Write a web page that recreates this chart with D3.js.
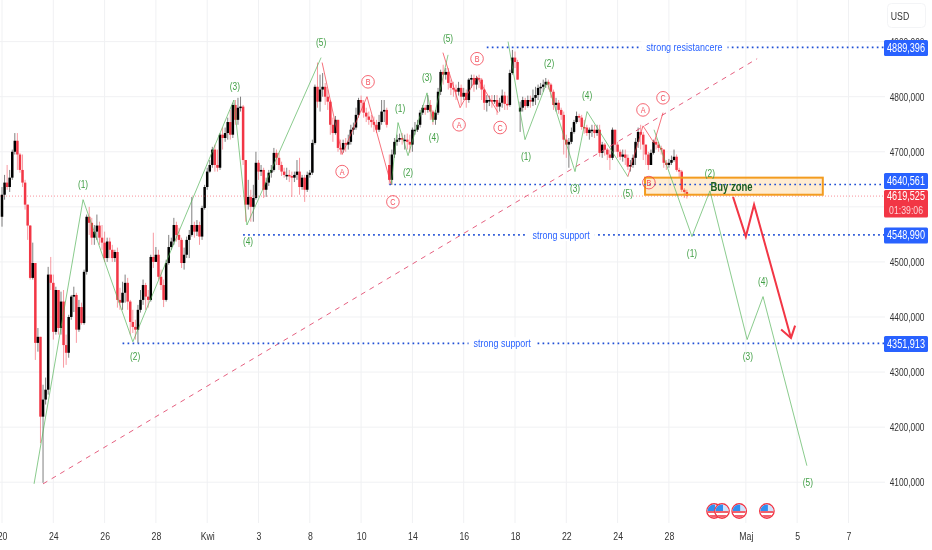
<!DOCTYPE html>
<html><head><meta charset="utf-8">
<style>
html,body{margin:0;padding:0;background:#fff;overflow:hidden}
svg{display:block;filter:blur(.35px)}
text{font-family:"Liberation Sans",Arial,sans-serif}
.cond{transform-box:fill-box;transform-origin:center;transform:scaleX(.76)}
</style>
<script src="https://cdnjs.cloudflare.com/ajax/libs/d3/7.8.5/d3.min.js"></script>
</head><body><svg id="c" width="932" height="550"></svg>
<script>
// ---- candle data (price values)
const firstOpen = 4582;
const gapOpens = {151:4676, 202:4773};
const closes = [
4622,4644,4636,4653,4700,4720,4695,4667,4644,4604,
4566,4471,4498,4353,4364,4219,4250,4268,4477,4462,
4373,4449,4380,4428,4349,4335,4400,4437,4440,4377,
4418,4389,4482,4582,4571,4544,4555,4566,4544,4535,
4507,4537,4522,4507,4518,4431,4426,4444,4462,4428,
4391,4382,4377,4413,4431,4458,4437,4431,4509,4500,
4513,4473,4458,4431,4498,4527,4537,4567,4549,4540,
4498,4513,4540,4549,4567,4555,4567,4546,4598,4636,
4664,4676,4704,4676,4671,4731,4725,4734,4754,4731,
4785,4758,4780,4782,4685,4604,4618,4600,4616,4680,
4664,4667,4631,4644,4662,4667,4698,4689,4676,4664,
4658,4658,4656,4653,4658,4664,4636,4653,4631,4658,
4662,4716,4818,4791,4813,4818,4800,4791,4749,4734,
4758,4707,4704,4716,4713,4718,4740,4744,4767,4794,
4789,4771,4764,4758,4754,4749,4740,4754,4773,4776,
4749,4649,4695,4718,4722,4725,4722,4722,4718,4713,
4740,4740,4749,4771,4780,4776,4785,4773,4758,4771,
4809,4845,4840,4845,4825,4816,4813,4809,4816,4800,
4807,4794,4831,4834,4822,4834,4831,4813,4789,4794,
4794,4791,4794,4782,4789,4802,4787,4785,4843,4871,
4863,4831,4780,4794,4783,4794,4791,4798,4803,4816,
4818,4822,4827,4822,4809,4785,4789,4776,4767,4722,
4713,4718,4736,4754,4765,4762,4745,4744,4734,4740,
4740,4734,4740,4698,4713,4704,4695,4689,4740,4713,
4700,4691,4695,4689,4673,4676,4689,4718,4736,4731,
4713,4695,4676,4698,4718,4713,4707,4704,4680,4676,
4680,4685,4691,4667,4664,4631,4627,4620];
const highs = [
4636,4658,4676,4667,4704,4734,4734,4698,4695,4649,
4604,4567,4535,4498,4380,4364,4277,4290,4491,4509,
4477,4455,4440,4446,4449,4368,4404,4440,4455,4444,
4431,4426,4486,4586,4600,4580,4567,4586,4573,4567,
4555,4544,4544,4531,4522,4526,4453,4464,4477,4471,
4431,4413,4395,4422,4449,4468,4462,4449,4513,4553,
4527,4522,4486,4468,4504,4549,4544,4580,4573,4562,
4544,4526,4546,4558,4618,4573,4576,4573,4602,4640,
4671,4685,4709,4713,4704,4734,4744,4744,4762,4776,
4789,4794,4798,4800,4785,4685,4649,4631,4640,4700,
4685,4676,4671,4653,4667,4676,4707,4704,4698,4682,
4671,4671,4667,4664,4664,4685,4689,4658,4658,4664,
4667,4722,4822,4862,4840,4843,4825,4813,4794,4762,
4765,4758,4722,4722,4725,4731,4749,4753,4780,4798,
4802,4794,4780,4773,4767,4764,4758,4767,4794,4794,
4780,4695,4704,4725,4731,4733,4734,4731,4733,4731,
4744,4754,4758,4776,4785,4785,4803,4794,4776,4776,
4816,4849,4858,4852,4852,4831,4827,4822,4827,4822,
4816,4813,4834,4840,4840,4838,4840,4834,4822,4803,
4802,4803,4803,4803,4798,4813,4809,4802,4849,4885,
4882,4867,4791,4800,4798,4802,4802,4813,4818,4822,
4825,4831,4834,4831,4825,4813,4798,4794,4780,4773,
4731,4725,4744,4758,4773,4769,4767,4758,4749,4744,
4749,4749,4749,4749,4718,4716,4707,4704,4744,4740,
4718,4704,4704,4704,4695,4685,4695,4725,4744,4749,
4736,4713,4700,4704,4722,4725,4718,4711,4704,4685,
4687,4693,4704,4695,4671,4667,4634,4631];
const lows = [
4564,4613,4631,4627,4649,4695,4667,4662,4636,4595,
4540,4468,4468,4322,4337,4171,4099,4241,4259,4449,
4359,4368,4368,4368,4308,4313,4326,4395,4409,4353,
4373,4386,4386,4477,4549,4531,4531,4540,4531,4522,
4500,4500,4507,4500,4500,4417,4413,4413,4426,4413,
4368,4371,4359,4353,4408,4422,4413,4417,4428,4489,
4500,4468,4449,4418,4428,4495,4522,4531,4537,4527,
4489,4486,4507,4507,4546,4544,4547,4531,4540,4595,
4631,4662,4671,4664,4664,4667,4704,4718,4722,4722,
4725,4749,4749,4773,4676,4573,4595,4573,4573,4613,
4649,4656,4616,4618,4638,4653,4664,4676,4667,4656,
4653,4649,4645,4618,4645,4649,4622,4631,4609,4627,
4653,4658,4713,4780,4773,4800,4785,4776,4731,4718,
4731,4700,4695,4698,4700,4704,4713,4731,4740,4762,
4773,4762,4754,4749,4744,4736,4734,4736,4749,4754,
4744,4640,4640,4689,4711,4718,4713,4704,4704,4698,
4700,4731,4736,4744,4767,4767,4771,4758,4749,4749,
4767,4803,4822,4831,4813,4803,4800,4794,4802,4785,
4794,4780,4789,4816,4809,4813,4816,4794,4776,4773,
4783,4780,4787,4767,4773,4780,4776,4776,4782,4840,
4852,4831,4736,4773,4776,4780,4780,4783,4785,4794,
4803,4809,4816,4813,4798,4776,4773,4769,4758,4695,
4689,4671,4714,4733,4751,4754,4740,4733,4729,4722,
4727,4725,4729,4691,4689,4693,4685,4667,4685,4700,
4689,4685,4682,4676,4667,4664,4671,4676,4707,4704,
4685,4676,4667,4676,4695,4704,4700,4695,4671,4667,
4671,4676,4682,4664,4653,4627,4616,4615];

// ---- axes
const gridPrices = [4100,4200,4300,4400,4500,4600,4700,4800,4900];
const priceTicks = [4100,4200,4300,4400,4500,4700,4800,4900]; // 4600 sits behind the red price tag
const timeTickBars = [0,20,40,60,80,100,120,140,160,180,200,220,240,260,290,310,330];
const timeTickLabels = ["20","24","26","28","Kwi","3","8","10","14","16","18","22","24","28","Maj","5","7"];
const currency = "USD";

// ---- levels and their price tags
const levelValues = [4889.396,4640.561,4548.990,4351.913];
const levelStartBars = [189,151,94,47];
const levelTexts = ["strong resistancere","","strong support","strong support"];
const levelTextBars = [266,0,218,195];
const levelTags = ["4889,396","4640,561","4548,990","4351,913"];
const lastPrice = 4619.525;
const lastPriceTag = "4619,525";
const countdown = "01:39:06";

// ---- annotation drawings as [bar, price]
const trendLine = [[16,4097],[294.4,4869]];
const greenWaves = [
 [[12.5,4097],[31.6,4613],[51,4355],[90.4,4794],[95.5,4567],[124.4,4871]],
 [[151.7,4640],[154.4,4753],[158.3,4693],[165.7,4807],[168,4754],[173.9,4876]],
 [[197.3,4900],[203.9,4722],[212.5,4827],[223.4,4664],[228.1,4773],[244,4655]],
 [[254.2,4740],[269,4546],[276,4629],[290.5,4359],[296.7,4437],[313.8,4130]]
];
const redWaves = [
 [[124.8,4862],[132.6,4695],[142.3,4800],[151.7,4640]],
 [[171.9,4880],[178.6,4780],[185.2,4836],[193.4,4771]],
 [[244,4655],[249.9,4747],[254.2,4716],[257.7,4771]]
];
const greenLabels = [
 [31.6,4640,"(1)"],[51.9,4329,"(2)"],[90.8,4818,"(3)"],[95.9,4537,"(4)"],[124.4,4898,"(5)"],
 [155.2,4778,"(1)"],[158.3,4662,"(2)"],[165.7,4834,"(3)"],[168.4,4725,"(4)"],[173.9,4905,"(5)"],
 [204.3,4691,"(1)"],[213.3,4860,"(2)"],[223.4,4633,"(3)"],[228.1,4802,"(4)"],[244,4624,"(5)"],
 [269,4515,"(1)"],[276,4660,"(2)"],[290.8,4329,"(3)"],[296.7,4464,"(4)"],[314.2,4099,"(5)"]
];
const redLabels = [
 [132.6,4664,"A"],[142.7,4827,"B"],[152.4,4609,"C"],
 [178.2,4749,"A"],[185.2,4869,"B"],[194.2,4744,"C"],
 [249.9,4776,"A"],[252.2,4644,"B"],[257.7,4798,"C"]
];
const arrowPath = [[285,4618],[290,4546],[293.2,4604],[307.6,4362]];
const buyZoneBars = [250.7,320];
const buyZonePrices = [4653,4622];
const buyZoneText = "Buy zone";
const eventBars = [277.6,280.7,287.4,298.2];

// ---- scales
const W=932,H=550,plotRight=885,plotBottom=523;
const x=d3.scaleLinear().domain([0,330]).range([2,848.45]);
const y=d3.scaleLinear().domain([4100,4800]).range([482.2,96.7]);
const svg=d3.select("#c");
const line=d3.line().x(d=>x(d[0])).y(d=>y(d[1]));
const BLUE="#2962ff",RED="#f23645",GREEN="#43a047";

// grid
svg.append("g").selectAll("line").data(gridPrices).join("line")
 .attr("x1",0).attr("x2",plotRight).attr("y1",d=>y(d)).attr("y2",d=>y(d)).attr("stroke","#f0f1f3");
svg.append("g").selectAll("line").data(timeTickBars).join("line")
 .attr("x1",d=>x(d)).attr("x2",d=>x(d)).attr("y1",0).attr("y2",plotBottom).attr("stroke","#f0f1f3");

// candles
const bars=d3.range(closes.length).map(i=>({i,c:closes[i],h:highs[i],l:lows[i],
  o: i===0?firstOpen:(gapOpens[i]!==undefined?gapOpens[i]:closes[i-1])}));
const col=d=>d.c>=d.o?"#000":RED;
const cg=svg.append("g");
cg.selectAll("line").data(bars).join("line")
 .attr("x1",d=>x(d.i)).attr("x2",d=>x(d.i)).attr("y1",d=>y(d.h)).attr("y2",d=>y(d.l))
 .attr("stroke",col).attr("stroke-opacity",.5).attr("stroke-width",1);
cg.selectAll("rect").data(bars).join("rect")
 .attr("x",d=>x(d.i)-1.25).attr("width",2.5)
 .attr("y",d=>Math.min(y(d.o),y(d.c))).attr("height",d=>Math.max(1.5,Math.abs(y(d.o)-y(d.c))))
 .attr("fill",col);

// last price line
svg.append("line").attr("x1",0).attr("x2",plotRight).attr("y1",y(lastPrice)).attr("y2",y(lastPrice))
 .attr("stroke",RED).attr("stroke-opacity",.55).attr("stroke-dasharray","1 2");

// trend line
svg.append("path").attr("d",line(trendLine)).attr("fill","none").attr("stroke","#e0446a")
 .attr("stroke-dasharray","5 5").attr("stroke-opacity",.85);

// buy zone
svg.append("rect").attr("x",x(buyZoneBars[0])).attr("width",x(buyZoneBars[1])-x(buyZoneBars[0]))
 .attr("y",y(buyZonePrices[0])).attr("height",y(buyZonePrices[1])-y(buyZonePrices[0]))
 .attr("fill","#ff9800").attr("fill-opacity",.18).attr("stroke","#f39c1f").attr("stroke-width",2);

// wave lines
svg.append("g").selectAll("path").data(greenWaves).join("path").attr("d",line)
 .attr("fill","none").attr("stroke","#4caf50").attr("stroke-opacity",.65).attr("stroke-width",1);
svg.append("g").selectAll("path").data(redWaves).join("path").attr("d",line)
 .attr("fill","none").attr("stroke",RED).attr("stroke-opacity",.7).attr("stroke-width",1);

// levels: dotted line, then a white gap and the level's text
const lg=svg.append("g");
levelValues.forEach((v,k)=>{
 lg.append("line").attr("x1",x(levelStartBars[k])).attr("x2",plotRight).attr("y1",y(v)).attr("y2",y(v))
  .attr("stroke","#1f4fd6").attr("stroke-width",1.7).attr("stroke-dasharray","1.7 3.3");
 if(levelTexts[k]){
  const t=lg.append("text").attr("x",x(levelTextBars[k])).attr("y",y(v)+3.8).attr("text-anchor","middle")
   .attr("font-size",11.8).attr("fill",BLUE).attr("class","cond").text(levelTexts[k]);
  const b=t.node().getBBox();
  lg.insert("rect",()=>t.node()).attr("x",b.x+b.width*.12-5).attr("width",b.width*.76+10)
    .attr("y",b.y).attr("height",b.height).attr("fill","#fff");
 }
});

// wave labels
svg.append("g").selectAll("text").data(greenLabels).join("text")
 .attr("x",d=>x(d[0])).attr("y",d=>y(d[1])+3.5).attr("text-anchor","middle").attr("font-size",11)
 .attr("fill",GREEN).attr("class","cond").text(d=>d[2]);
const rl=svg.append("g").selectAll("g").data(redLabels).join("g")
 .attr("transform",d=>`translate(${x(d[0])},${y(d[1])})`);
rl.append("circle").attr("r",6.3).attr("fill","none").attr("stroke",RED).attr("stroke-opacity",.75);
rl.append("text").attr("y",3.4).attr("text-anchor","middle").attr("font-size",9.5).attr("fill",RED)
 .attr("fill-opacity",.9).attr("class","cond").text(d=>d[2]);

// buy zone label
svg.append("text").attr("x",x(284.4)).attr("y",y(4636)+4).attr("text-anchor","middle")
 .attr("font-size",12.5).attr("font-weight","bold").attr("fill","#1b5e20").attr("class","cond").text(buyZoneText);

// red arrow
svg.append("path").attr("d",line(arrowPath)).attr("fill","none").attr("stroke",RED)
 .attr("stroke-width",2).attr("stroke-linejoin","miter");
{
 const n=arrowPath.length,a=arrowPath[n-2],b=arrowPath[n-1];
 const ax=x(a[0]),ay=y(a[1]),bx=x(b[0]),by=y(b[1]),ang=Math.atan2(by-ay,bx-ax),L=13;
 const pts=[[bx+L*Math.cos(ang+2.55),by+L*Math.sin(ang+2.55)],[bx,by],[bx+L*Math.cos(ang-2.55),by+L*Math.sin(ang-2.55)]];
 svg.append("path").attr("d",d3.line()(pts)).attr("fill","none").attr("stroke",RED).attr("stroke-width",2);
}

// event flags
const defs=svg.append("defs");
defs.append("clipPath").attr("id","fc").append("circle").attr("r",6.5);
const fl=svg.append("g").selectAll("g").data(eventBars).join("g")
 .attr("transform",d=>`translate(${x(d)},511)`);
fl.append("circle").attr("r",7.2).attr("fill","#fff").attr("stroke",RED).attr("stroke-width",1.4);
const fi=fl.append("g").attr("clip-path","url(#fc)");
fi.append("rect").attr("x",-7).attr("y",-7).attr("width",14).attr("height",7).attr("fill","#cfe3fb");
fi.append("rect").attr("x",-7).attr("y",-7).attr("width",8).attr("height",7).attr("fill","#2f8ff0");
fi.append("rect").attr("x",-7).attr("y",0).attr("width",14).attr("height",2).attr("fill","#f0616d");
fi.append("rect").attr("x",-7).attr("y",2).attr("width",14).attr("height",2).attr("fill","#fff");
fi.append("rect").attr("x",-7).attr("y",4).attr("width",14).attr("height",3).attr("fill","#f0616d");

// price axis
const yAxis=d3.axisRight(y).tickValues(priceTicks).tickSize(0).tickPadding(5).tickFormat(d=>d+",000");
const ya=svg.append("g").attr("transform",`translate(${plotRight},0)`).call(yAxis);
ya.select(".domain").remove();
ya.selectAll("text").attr("x",22).attr("text-anchor","middle").attr("font-size",11).attr("fill","#333")
  .attr("font-family",'"Liberation Sans",Arial,sans-serif').attr("class","cond");

// time axis
const xAxis=d3.axisBottom(x).tickValues(timeTickBars).tickSize(0).tickPadding(0)
  .tickFormat(d=>timeTickLabels[timeTickBars.indexOf(d)]);
const xa=svg.append("g").attr("transform",`translate(0,${plotBottom})`).call(xAxis);
xa.select(".domain").remove();
xa.selectAll("text").attr("y",9).attr("font-size",11.5).attr("fill","#333")
  .attr("font-family",'"Liberation Sans",Arial,sans-serif').attr("class","cond");

// price tags (the 4640 tag is pushed up by the red tag below it)
const tg=svg.append("g");
levelValues.forEach((v,k)=>{
 const cy=k===1?y(v)-3.5:y(v)+.5;
 tg.append("rect").attr("x",884).attr("width",44).attr("y",cy-8).attr("height",16).attr("rx",1.5).attr("fill",BLUE);
 tg.append("text").attr("x",906).attr("y",cy+4).attr("text-anchor","middle").attr("font-size",12)
  .attr("fill","#fff").attr("class","cond").text(levelTags[k]);
});
tg.append("rect").attr("x",884).attr("width",44).attr("y",y(lastPrice)-6).attr("height",27.5).attr("rx",1.5).attr("fill",RED);
tg.append("text").attr("x",906).attr("y",y(lastPrice)+4).attr("text-anchor","middle").attr("font-size",12)
  .attr("fill","#fff").attr("class","cond").text(lastPriceTag);
tg.append("text").attr("x",906).attr("y",y(lastPrice)+18).attr("text-anchor","middle").attr("font-size",11.5)
  .attr("fill","#fff").attr("fill-opacity",.78).attr("class","cond").text(countdown);

// currency button
svg.append("rect").attr("x",887.5).attr("y",3.5).attr("width",38).attr("height",24).attr("rx",4)
 .attr("fill","#fff").attr("stroke","#f3f4f6");
svg.append("text").attr("x",900).attr("y",20).attr("text-anchor","middle").attr("font-size",11.5)
 .attr("fill","#333").attr("class","cond").text(currency);
</script></body></html>
